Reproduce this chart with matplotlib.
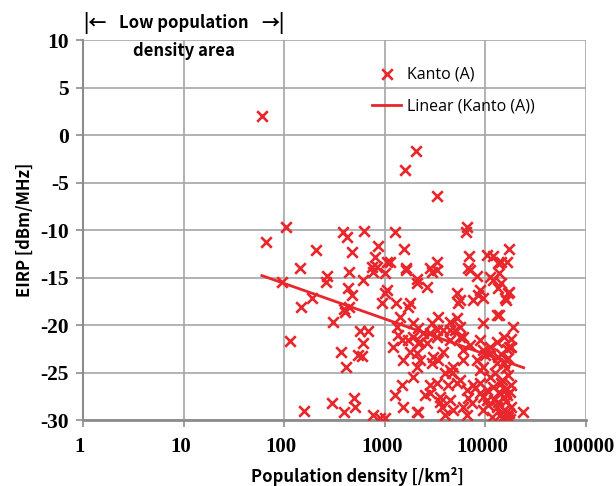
import numpy as np
import matplotlib
matplotlib.use("Agg")
import matplotlib.pyplot as plt
import matplotlib.transforms as mtransforms

# Kanto (A) measurements: population density [/km2] and EIRP [dBm/MHz]
density = [
    60, 2040, 1600, 3300, 104, 66, 385, 422, 622, 1259, 858, 1549, 207, 472,
    144, 442, 266, 800, 839, 1047, 1122, 1000, 747, 764, 1622, 2818, 3311,
    2090, 2951, 6607, 6457, 6918, 6761, 7079, 8318, 10470, 12020, 13490,
    11220, 16980, 14130, 16220, 13800, 16980, 15490, 13800, 18620, 17780,
    17780, 23440,
    95, 260, 432, 472, 608, 147, 189, 394, 442, 403, 306, 114, 567, 681, 608,
    367, 541, 594, 412, 157, 299, 394, 494, 505, 764, 898, 1000,
    1047, 1000, 941, 1288, 1698, 1413, 2090, 2630, 1622, 1318, 1349, 1479,
    1200, 1514, 1905, 2138, 2399, 1778, 2090, 2239, 1905, 2090, 1479, 1259,
    1514, 2090, 2138, 2818, 3311, 3020, 3388, 3802, 4467, 5248, 5623, 6026,
    4467, 3802, 3388, 2951, 2818, 2512, 3311, 3981, 4467, 4786, 5623, 6026,
    4467, 4786, 3715, 3548, 3981, 6607, 7413, 7943, 8913, 9550, 11750, 8913,
    9550, 8318, 9550, 11220, 13180, 13180, 15140, 16980, 13180, 14130, 15140,
    13490, 15140, 16600, 5248, 5623, 5370, 8913, 8511, 7586, 9550, 12020,
    14130, 13490, 16600, 15850, 3311, 1778, 13490, 11220, 10000, 8913, 10470,
    12020, 10470, 10720, 13180, 9550, 6761, 6026, 6607, 8913, 7586, 4266,
    4677, 5248, 2818, 3548, 2138, 2239, 1698, 1905, 2630, 2951, 3311, 4467,
    5012, 5623, 7079, 9550, 11220, 6026,
    14130, 15850, 16600, 14790, 17380, 15850, 16980, 14450, 17780, 16220,
    13800, 15140, 16600, 12590, 14790, 17380, 16220, 17780, 12300, 15500,
]
eirp = [
    2.0, -1.7, -3.7, -6.4, -9.7, -11.3, -10.2, -10.7, -10.1, -10.2, -11.7,
    -12.0, -12.1, -12.3, -14.0, -14.4, -14.8, -12.8, -13.9, -13.4, -13.4,
    -14.5, -13.9, -14.4, -14.0, -14.0, -13.4, -15.2, -14.4, -9.7, -10.2,
    -12.7, -14.0, -14.2, -14.8, -12.6, -12.7, -13.5, -14.9, -12.0, -13.4,
    -13.4, -14.5, -16.5, -17.2, -18.9, -20.2, -22.3, -26.3, -29.2,
    -15.5, -15.5, -16.1, -16.8, -15.3, -18.1, -17.2, -18.3, -18.1, -18.6,
    -19.7, -21.7, -20.6, -20.6, -21.9, -22.8, -23.2, -23.3, -24.4, -29.1,
    -28.2, -29.2, -27.7, -28.6, -29.5, -29.8, -29.8,
    -16.3, -16.6, -17.7, -17.7, -18.1, -19.2, -15.6, -16.0, -14.2, -20.2,
    -21.1, -21.6, -22.3, -23.7, -19.8, -20.3, -20.8, -22.8, -22.9, -23.7,
    -25.5, -24.4, -26.3, -27.4, -28.6, -29.2, -29.2, -20.8, -21.3, -23.4,
    -19.2, -20.5, -19.7, -19.3, -20.2, -21.3, -21.6, -22.8, -23.7, -24.0,
    -26.3, -27.4, -26.1, -25.1, -24.7, -24.4, -25.8, -23.7, -27.9, -28.9,
    -28.6, -28.1, -29.5, -29.5, -28.2, -26.6, -27.2, -28.9, -29.7, -21.6,
    -19.8, -23.7, -24.4, -25.5, -18.9, -21.8, -21.3, -22.3, -24.0, -26.1,
    -27.6, -28.1, -28.9, -29.7, -16.6, -17.4, -17.7, -16.3, -16.8, -17.4,
    -17.2, -15.3, -15.6, -16.1, -16.6, -17.4, -14.2, -17.7, -23.4, -22.9,
    -23.2, -24.7, -26.8, -26.5, -27.9, -28.4, -28.6, -27.6, -27.7, -28.6,
    -26.8, -26.1, -26.3, -26.3, -25.1, -26.1, -27.2, -27.6, -21.9, -21.8,
    -21.6, -21.3, -21.9, -19.8, -20.5, -20.5, -20.5, -21.3, -22.1, -22.6,
    -22.3, -22.6,
    -23.0, -24.5, -25.3, -25.8, -27.0, -28.0, -29.3, -29.4, -28.6, -27.4,
    -27.0, -24.0, -23.5, -25.0, -29.8, -29.9, -22.5, -21.5, -27.9, -26.8,
]

# trend line end points
trend_x = [60, 24000]
trend_y = [-14.8, -24.5]

x_ticks = [1, 10, 100, 1000, 10000, 100000]
y_ticks = [-30, -25, -20, -15, -10, -5, 0, 5, 10]

red = "#e8262b"
grid_col = "#a6a6a6"
gothic = ["Noto Sans CJK JP", "DejaVu Sans"]

plt.rcParams["font.family"] = ["Liberation Serif", "DejaVu Serif"]
plt.rcParams["axes.unicode_minus"] = False

fig = plt.figure(figsize=(6.16, 4.86), dpi=100)
ax = fig.add_axes([83 / 616, 1 - 420 / 486, 503 / 616, 380 / 486])

ax.scatter(density, eirp, marker="x", s=58, color=red, linewidths=1.9,
           label="Kanto (A)", zorder=3)
ax.plot(trend_x, trend_y, color=red, lw=2.0, label="Linear (Kanto (A))",
        zorder=3)

ax.set_xscale("log")
ax.set_xlim(1, 100000)
ax.set_ylim(-30, 10)
ax.xaxis.set_minor_locator(matplotlib.ticker.NullLocator())
ax.set_xticks(x_ticks)
ax.set_xticklabels([str(v) for v in x_ticks], fontfamily="Liberation Serif",
                   fontweight="bold", fontsize=15)
ax.set_yticks(y_ticks)
ax.set_yticklabels([str(v) for v in y_ticks], fontfamily="Liberation Serif",
                   fontweight="bold", fontsize=15.5)
ax.grid(True, color=grid_col, lw=1.2)
ax.set_axisbelow(True)
for s in ["top", "right"]:
    ax.spines[s].set_visible(False)
ax.spines["left"].set_color("#8c8c8c")
ax.spines["bottom"].set_color("#8c8c8c")
ax.spines["left"].set_linewidth(1.5)
ax.spines["bottom"].set_linewidth(2.0)
ax.tick_params(axis="both", direction="out", length=5, color="#8c8c8c",
               width=1.2)
ax.tick_params(axis="y", pad=5)
ax.tick_params(axis="x", pad=7)

# nudge the x tick labels a little to the left, as in the original
shift = mtransforms.ScaledTranslation(-3 / 100, 0, fig.dpi_scale_trans)
for lab in ax.get_xticklabels():
    lab.set_transform(lab.get_transform() + shift)

ax.set_xlabel("Population density [/km²]", family=gothic, fontweight="bold",
              fontsize=12)
ax.xaxis.set_label_coords((357 - 83) / 503, -47 / 380)
ax.set_ylabel("EIRP [dBm/MHz]", family=gothic, fontweight="bold", fontsize=12)
ax.yaxis.set_label_coords(-49 / 503, 0.5)

leg = ax.legend(loc="upper left", bbox_to_anchor=(0.575, 0.93),
                frameon=False, borderpad=0, borderaxespad=0,
                handlelength=1.8, handletextpad=0.4, labelspacing=1.0,
                prop={"family": "Open Sans", "size": 11.5})

# low population density annotation above the plot
trans = mtransforms.blended_transform_factory(ax.transData, ax.transAxes)
ax.text(1, 1.045, "|←", transform=trans, ha="left", va="center",
        family=gothic, fontweight="bold", fontsize=13)
ax.text(100, 1.045, "→|", transform=trans, ha="right", va="center",
        family=gothic, fontweight="bold", fontsize=13)
ax.text(10, 1.045, "Low population", transform=trans, ha="center",
        va="center", family=gothic, fontweight="bold", fontsize=12)
ax.text(10, 0.97, "density area", transform=trans, ha="center",
        va="center", family=gothic, fontweight="bold", fontsize=12)

fig.savefig("out.png", dpi=100)
